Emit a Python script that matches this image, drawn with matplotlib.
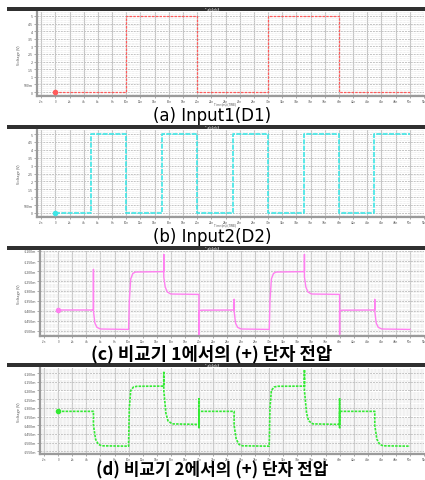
import matplotlib
matplotlib.use("Agg")
import matplotlib.pyplot as plt
from matplotlib.patches import Rectangle
from matplotlib.ticker import MultipleLocator, FixedLocator

plt.rcParams['font.family'] = ['Noto Sans CJK KR', 'DejaVu Sans']

W, H = 425, 481

# ---------------- data ----------------
captions = ["(a) Input1(D1)", "(b) Input2(D2)",
            "(c) 비교기 1에서의 (+) 단자 전압", "(d) 비교기 2에서의 (+) 단자 전압"]

x_ticks = [-2, 0, 2, 4, 6, 8, 10, 12, 14, 16, 18, 20, 22, 24, 26, 28, 30, 32, 34, 36,
           38, 40, 42, 44, 46, 48, 50, 52]
x_tick_labels = ["-2n", "0"] + [f"{v}n" for v in x_ticks[2:]]

# (a) Input1 (V)
t_a = [0, 10, 10, 20, 20, 30, 30, 40, 40, 50]
v_a = [0, 0, 5, 5, 0, 0, 5, 5, 0, 0]

# (b) Input2 (V)
t_b = [0, 5, 5, 10, 10, 15, 15, 20, 20, 25, 25, 30, 30, 35, 35, 40, 40, 45, 45, 50]
v_b = [0, 0, 5, 5, 0, 0, 5, 5, 0, 0, 5, 5, 0, 0, 5, 5, 0, 0, 5, 5]

y_ticks_ab = [0, 0.5, 1, 1.5, 2, 2.5, 3, 3.5, 4, 4.5, 5]
y_labels_ab = ["0", "500m", "1", "1.5", "2", "2.5", "3", "3.5", "4", "4.5", "5"]

# (c) comparator 1 (+) node (mV)
t_c = [0, 5.0, 5.0, 5.0, 5.2, 5.5, 6.0, 10.0, 10.1, 10.3, 10.6, 11.0, 15.0, 15.0, 15.0,
       15.2, 15.5, 16.0, 20.0, 20.0, 20.0, 20.3, 25.0, 25.0, 25.0, 25.2, 25.5, 26.0,
       30.0, 30.1, 30.3, 30.6, 31.0, 35.0, 35.0, 35.0, 35.2, 35.5, 36.0, 40.0, 40.0,
       40.0, 40.3, 45.0, 45.0, 45.0, 45.2, 45.5, 46.0, 50.0]
v_c = [-1395, -1395, -1192, -1400, -1460, -1482, -1490, -1492, -1350, -1240, -1212,
       -1205, -1203, -1117, -1230, -1280, -1305, -1315, -1317, -1517, -1400, -1396,
       -1395, -1342, -1400, -1460, -1482, -1490, -1492, -1350, -1240, -1212, -1205,
       -1203, -1117, -1230, -1280, -1305, -1315, -1317, -1517, -1400, -1396, -1395,
       -1342, -1400, -1460, -1482, -1490, -1492]
y_ticks_c = [-1500, -1450, -1400, -1350, -1300, -1250, -1200, -1150, -1100]
y_labels_c = [f"{v}m" for v in y_ticks_c]

# (d) comparator 2 (+) node (mV)
t_d = [0, 5.0, 5.0, 5.3, 5.7, 6.2, 10.0, 10.0, 10.1, 10.3, 10.7, 11.2, 15.0, 15.0,
       15.0, 15.3, 15.6, 16.2, 20.0, 20.0, 20.0, 20.0, 25.0, 25.0, 25.3, 25.7, 26.2,
       30.0, 30.0, 30.1, 30.3, 30.7, 31.2, 35.0, 35.0, 35.0, 35.3, 35.6, 36.2, 40.0,
       40.0, 40.0, 40.0, 45.0, 45.0, 45.3, 45.7, 46.2, 50.0]
v_d = [-1320, -1320, -1400, -1480, -1510, -1518, -1520, -1500, -1300, -1200, -1180,
       -1176, -1175, -1090, -1200, -1330, -1375, -1392, -1395, -1248, -1413, -1320,
       -1320, -1400, -1480, -1510, -1518, -1520, -1500, -1300, -1200, -1180, -1176,
       -1175, -1080, -1200, -1330, -1375, -1392, -1395, -1248, -1413, -1320, -1320,
       -1400, -1480, -1510, -1518, -1520]
y_ticks_d = [-1550, -1500, -1450, -1400, -1350, -1300, -1250, -1200, -1150, -1100]
y_labels_d = [f"{v}m" for v in y_ticks_d]

# ---------------- layout ----------------
panels = [
    dict(t=t_a, v=v_a, yt=y_ticks_ab, yl=y_labels_ab, ylim=(-0.26, 5.26), ymin=0.25,
         color="#ff5a5a", lw=0.9, ls=(0, (2, 1)), bar=(8, 12), box=(37, 13, 424, 97),
         cap_y=116, bold=False, fs=12, fam=["DejaVu Sans"], xlab=True),
    dict(t=t_b, v=v_b, yt=y_ticks_ab, yl=y_labels_ab, ylim=(-0.26, 5.26), ymin=0.25,
         color="#3fe6e6", lw=1.2, ls=(0, (3, 0.8)), bar=(126, 130), box=(37, 131, 424, 218),
         cap_y=237, bold=False, fs=12, fam=["DejaVu Sans"], xlab=True),
    dict(t=t_c, v=v_c, yt=y_ticks_c, yl=y_labels_c, ylim=(-1525, -1100), ymin=12.5,
         color="#ff80f0", lw=1.0, ls="-", bar=(247, 251), box=(40, 252, 424, 337),
         cap_y=354, bold=True, fs=12.8, fam=["Noto Sans CJK KR", "DejaVu Sans"], xlab=False),
    dict(t=t_d, v=v_d, yt=y_ticks_d, yl=y_labels_d, ylim=(-1565, -1071), ymin=12.5,
         color="#33ea33", lw=1.2, ls=(0, (1.5, 0.7)), bar=(364, 368), box=(40, 369, 424, 455),
         cap_y=470.5, bold=True, fs=12.2, fam=["Noto Sans CJK KR", "DejaVu Sans"], xlab=False),
]

fig = plt.figure(figsize=(W / 100, H / 100), dpi=100)
fig.patch.set_facecolor("white")

for i, p in enumerate(panels):
    b0, b1 = p["bar"]
    fig.add_artist(Rectangle((7 / W, 1 - b1 / H), (425 - 7) / W, (b1 - b0) / H,
                             transform=fig.transFigure, facecolor="#303030",
                             edgecolor="none"))
    fig.text(212 / W, 1 - (b0 + b1) / 2 / H, "* ab1eb3", color="white", fontsize=2.5,
             ha="center", va="center")

    l, t, r, b = p["box"]
    ax = fig.add_axes([l / W, 1 - b / H, (r - l) / W, (b - t) / H])
    ax.set_facecolor("white")
    ax.plot(p["t"], p["v"], color=p["color"], lw=p["lw"], ls=p["ls"], zorder=3)
    ax.plot([p["t"][0]], [p["v"][0]], marker="o", ms=3, color=p["color"], zorder=4)

    ax.set_xlim(-2.6, 52)
    ax.set_ylim(*p["ylim"])
    ax.xaxis.set_major_locator(FixedLocator(x_ticks))
    ax.set_xticklabels(x_tick_labels)
    ax.xaxis.set_minor_locator(MultipleLocator(0.5))
    ax.yaxis.set_major_locator(FixedLocator(p["yt"]))
    ax.set_yticklabels(p["yl"])
    ax.yaxis.set_minor_locator(MultipleLocator(p["ymin"] / 2))

    ax.tick_params(axis="x", which="major", labelsize=2.2, labelcolor="#555555",
                   length=1.5, width=0.5, color="#888888", pad=0.6)
    ax.tick_params(axis="y", which="major", labelsize=2.6, labelcolor="#555555",
                   length=2, width=0.5, color="#888888", pad=1)
    ax.tick_params(axis="both", which="minor", length=1.0, width=0.3, color="#888888")

    ax.grid(True, which="major", axis="x", color="#c4c4c4", lw=0.8, ls="-")
    ax.grid(True, which="major", axis="y", color="#c4c4c4", lw=0.7, ls=(0, (2, 1)))
    ax.yaxis.grid(True, which="minor", color="#e2e2e2", lw=0.5, ls=(0, (1, 1)))

    for s in ["top", "right"]:
        ax.spines[s].set_visible(False)
    for s in ["left", "bottom"]:
        ax.spines[s].set_color("#9a9a9a")
        ax.spines[s].set_linewidth(1.6)

    ax.set_ylabel("Voltage (V)", fontsize=2.8, color="#555555", labelpad=2)
    if p["xlab"]:
        fig.text(225 / W, 1 - (b + 7.5) / H, "Time (ns) (TIME)", fontsize=2.2,
                 color="#555555", ha="center", va="center")

    fig.text(212 / W, 1 - p["cap_y"] / H, captions[i], fontsize=p["fs"],
             family=p["fam"], fontweight="bold" if p["bold"] else "normal",
             color="black", ha="center", va="center")

fig.savefig("out.png", dpi=100, facecolor="white")
